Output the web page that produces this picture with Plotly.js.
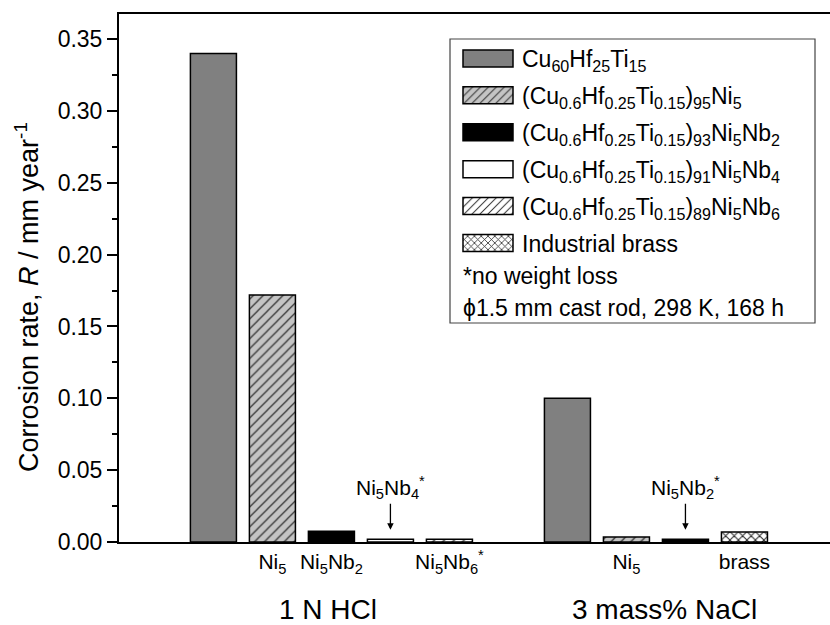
<!DOCTYPE html>
<html>
<head>
<meta charset="utf-8">
<script src="https://cdn.plot.ly/plotly-3.0.1.min.js"></script>
<style>html,body{margin:0;padding:0;overflow:hidden;background:#fff}</style>
</head>
<body>
<div id="chart" style="width:830px;height:625px"></div>
<script>
// ---- data ----
const groups = ["1 N HCl", "3 mass% NaCl"];
const alloys = [
  "Cu<sub>60</sub>Hf<sub>25</sub>Ti<sub>15</sub>",
  "(Cu<sub>0.6</sub>Hf<sub>0.25</sub>Ti<sub>0.15</sub>)<sub>95</sub>Ni<sub>5</sub>",
  "(Cu<sub>0.6</sub>Hf<sub>0.25</sub>Ti<sub>0.15</sub>)<sub>93</sub>Ni<sub>5</sub>Nb<sub>2</sub>",
  "(Cu<sub>0.6</sub>Hf<sub>0.25</sub>Ti<sub>0.15</sub>)<sub>91</sub>Ni<sub>5</sub>Nb<sub>4</sub>",
  "(Cu<sub>0.6</sub>Hf<sub>0.25</sub>Ti<sub>0.15</sub>)<sub>89</sub>Ni<sub>5</sub>Nb<sub>6</sub>",
  "Industrial brass"
];
const alloyKeys = ["Cu60Hf25Ti15", "Ni5", "Ni5Nb2", "Ni5Nb4", "Ni5Nb6", "brass"];
// 1 N HCl: alloys 0..4
const hclAlloys = [0, 1, 2, 3, 4];
const hclValues = [0.340, 0.172, 0.0075, 0.002, 0.002];
const hclTickText = ["", "Ni<sub>5</sub>", "Ni<sub>5</sub>Nb<sub>2</sub>", "", "Ni<sub>5</sub>Nb<sub>6</sub><sup>*</sup>"];
// 3 mass% NaCl: alloys 0,1,2,5
const naclAlloys = [0, 1, 2, 5];
const naclValues = [0.100, 0.0035, 0.002, 0.007];
const naclTickText = ["", "Ni<sub>5</sub>", "", "brass"];
const notes = ["*no weight loss", "\u03d51.5 mm cast rod, 298 K, 168 h"];
const arrowNotes = [
  {group: 0, alloy: 3, text: "Ni<sub>5</sub>Nb<sub>4</sub><sup>*</sup>"},
  {group: 1, alloy: 2, text: "Ni<sub>5</sub>Nb<sub>2</sub><sup>*</sup>"}
];
const yTitle = "Corrosion rate, <i>R</i> / mm year<sup>-1</sup>";

// ---- styles ----
const FONT = "Arial, 'Liberation Sans', sans-serif";
const markers = [
  {color: "#808080"},
  {color: "#c4c4c4", pattern: {shape: "/", bgcolor: "#c4c4c4", fgcolor: "#333", size: 7, solidity: 0.18}},
  {color: "#000000"},
  {color: "#ffffff"},
  {color: "#ffffff", pattern: {shape: "/", bgcolor: "#ffffff", fgcolor: "#333", size: 7, solidity: 0.18}},
  {color: "#ffffff", pattern: {shape: "x", bgcolor: "#ffffff", fgcolor: "#222", size: 6, solidity: 0.3}}
];

const key = (g, a) => g + "|" + alloyKeys[a];
const hclKeys = hclAlloys.map(a => key(0, a));
const naclKeys = naclAlloys.map(a => key(1, a));
const categories = hclKeys.concat(["gap"], naclKeys);

const traces = alloys.map((name, i) => {
  const x = [], y = [];
  hclAlloys.forEach((a, j) => { if (a === i) { x.push(hclKeys[j]); y.push(hclValues[j]); } });
  naclAlloys.forEach((a, j) => { if (a === i) { x.push(naclKeys[j]); y.push(naclValues[j]); } });
  const m = Object.assign({}, markers[i], {line: {color: "#000", width: 1.5}});
  return {type: "bar", name: name, x: x, y: y, marker: m, legendgroup: "g" + i, hoverinfo: "skip"};
});

const annotations = [];
// y-axis title
annotations.push({xref: "paper", yref: "paper", x: (27 - 119) / 711, y: (542 - 297) / 528, text: yTitle,
  textangle: -90, showarrow: false, xanchor: "center", yanchor: "middle",
  font: {family: FONT, size: 27, color: "#000"}});
// group labels
annotations.push({xref: "x", yref: "paper", x: 1.95, y: (542 - 609) / 528, text: groups[0], showarrow: false,
  font: {family: FONT, size: 28, color: "#000"}, yanchor: "middle"});
annotations.push({xref: "x", yref: "paper", x: 7.65, y: (542 - 609) / 528, text: groups[1], showarrow: false,
  font: {family: FONT, size: 28, color: "#000"}, yanchor: "middle"});
// arrow notes
arrowNotes.forEach(n => {
  annotations.push({xref: "x", yref: "y", x: key(n.group, n.alloy), y: 0.0085, text: n.text,
    showarrow: true, arrowhead: 2, arrowsize: 1, arrowwidth: 1.3, arrowcolor: "#000",
    ax: 0, ay: -42, font: {family: FONT, size: 21, color: "#000"}});
});
// legend notes
notes.forEach((t, i) => {
  annotations.push({xref: "paper", yref: "paper", x: (461 - 119) / 711, y: (542 - (276 + i * 32)) / 528, text: t,
    showarrow: false, xanchor: "left", yanchor: "middle", font: {family: FONT, size: 23, color: "#000"}});
});

const layout = {
  width: 830, height: 625,
  margin: {l: 119, r: 0, t: 14, b: 83},
  paper_bgcolor: "#fff", plot_bgcolor: "#fff",
  font: {family: FONT, color: "#000"},
  barmode: "overlay", bargap: 0.22,
  showlegend: true,
  legend: {x: (454 - 119) / 711, y: (542 - 37) / 528, xanchor: "left", yanchor: "top", bgcolor: "rgba(0,0,0,0)",
    borderwidth: 0, font: {family: FONT, size: 23, color: "#000"}, itemwidth: 58,
    tracegroupgap: 4, traceorder: "grouped"},
  xaxis: {type: "category", categoryorder: "array", categoryarray: categories,
    range: [-1.6, 10.45], showline: true, linecolor: "#000", linewidth: 2, mirror: true,
    showgrid: false, zeroline: false, ticks: "",
    tickmode: "array", tickvals: hclKeys.concat(naclKeys), ticktext: hclTickText.concat(naclTickText),
    tickfont: {family: FONT, size: 21, color: "#000"}},
  yaxis: {range: [0, 0.3675], dtick: 0.05, tick0: 0, tickformat: ".2f",
    showline: true, linecolor: "#000", linewidth: 2, mirror: false,
    ticks: "outside", ticklen: 10, tickwidth: 2, tickcolor: "#000",
    minor: {dtick: 0.025, ticks: "outside", ticklen: 5, tickwidth: 2, tickcolor: "#000"},
    showgrid: false, zeroline: false,
    tickfont: {family: FONT, size: 23, color: "#000"}},
  shapes: [{type: "rect", xref: "paper", yref: "paper",
    x0: (450 - 119) / 711, x1: (815 - 119) / 711, y0: (542 - 323) / 528, y1: (542 - 39) / 528,
    line: {color: "#444", width: 1.2}}],
  annotations: annotations
};

Plotly.newPlot("chart", traces, layout, {displayModeBar: false, staticPlot: true}).then(gd => {
  gd.querySelectorAll(".legend .legendpoints path").forEach(p => p.setAttribute("d", "M25,8.5H-25V-8.5H25Z"));
});
</script>
</body>
</html>
